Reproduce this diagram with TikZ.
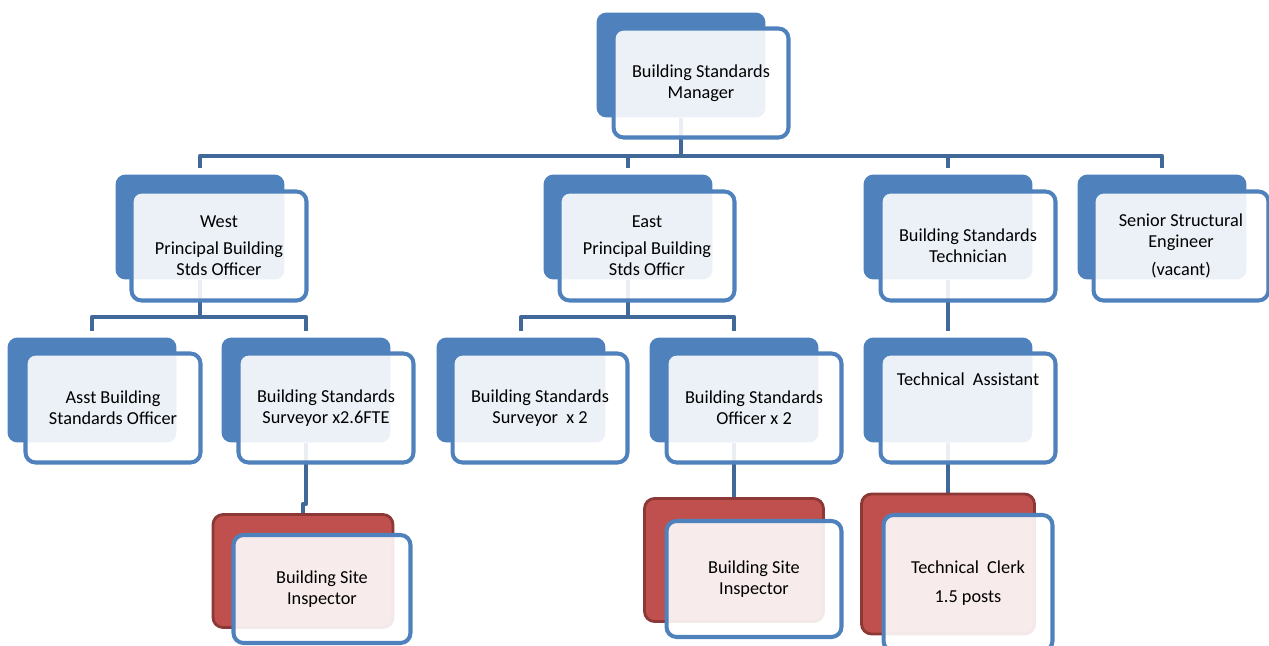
\documentclass[tikz,border=0pt]{standalone}
\usepackage{fontspec}
\setmainfont{Carlito}
\usetikzlibrary{backgrounds}
\definecolor{orgblue}{HTML}{4F81BD}
\definecolor{orgline}{HTML}{406898}
\definecolor{orgred}{HTML}{C0504D}
\definecolor{orgredline}{HTML}{8C3836}

\begin{document}
\begin{tikzpicture}[x=0.02cm, y=-0.02cm,
	font=\fontsize{10.4}{12}\selectfont,
	bluebk/.style={rectangle, rounded corners=0.2cm, fill=orgblue, minimum width=3.38cm, minimum height=2.1cm},
	redbk/.style={rectangle, rounded corners=0.2cm, fill=orgred, draw=orgredline, line width=1.6pt},
	frontbox/.style={rectangle, rounded corners=0.2cm, draw=orgblue, line width=2.3pt, fill=white, fill opacity=0.89, text opacity=1, align=center, minimum width=3.5cm, minimum height=2.18cm},
	conn/.style={draw=orgline, line width=2.4pt, line join=round},
	gap/.style={shorten >=0.13cm}]
		\useasboundingbox (0,0) rectangle (1269,646);
		\node[bluebk] (mgrb) at (681,65) {};
		\node[frontbox] (mgr) at (701,83) {Building Standards\\Manager};
		\node[bluebk] (westb) at (200,227) {};
		\node[frontbox] (west) at (219,246) {West\\[3.4pt]Principal Building\\Stds Officer};
		\node[bluebk] (eastb) at (628,227) {};
		\node[frontbox] (east) at (647,246) {East\\[3.4pt]Principal Building\\Stds Officr};
		\node[bluebk] (techb) at (948,227) {};
		\node[frontbox] (tech) at (968,246) {Building Standards\\Technician};
		\node[bluebk] (seniorb) at (1162,227) {};
		\node[frontbox] (senior) at (1181,246) {Senior Structural\\Engineer\\[4pt](vacant)};
		\node[bluebk] (asstb) at (92,390) {};
		\node[frontbox] (asst) at (113,408) {Asst Building\\Standards Officer};
		\node[bluebk] (survb) at (306,390) {};
		\node[frontbox] (surv) at (326,408) {Building Standards\\Surveyor x2.6FTE};
		\node[bluebk] (surv2b) at (521,390) {};
		\node[frontbox] (surv2) at (540,408) {Building Standards\\Surveyor\ \ x 2};
		\node[bluebk] (offcb) at (734,390) {};
		\node[frontbox] (offc) at (754,408) {Building Standards\\Officer x 2};
		\node[bluebk] (tasstb) at (948,390) {};
		\node[frontbox] (tasst) at (968,408) {};
		\node (tasstlbl) at (968,379) {Technical\ \ Assistant};
		\node[redbk, minimum width=3.6cm, minimum height=2.26cm] (winspb) at (303,571) {};
		\node[frontbox, minimum width=3.54cm, minimum height=2.16cm] (winsp) at (322,589) {Building Site\\Inspector};
		\node[redbk, minimum width=3.58cm, minimum height=2.46cm] (einspb) at (734,560) {};
		\node[frontbox, minimum height=2.32cm] (einsp) at (754,579) {Building Site\\Inspector};
		\node[redbk, minimum width=3.46cm, minimum height=2.8cm] (clerkb) at (948,564) {};
		\node[frontbox, minimum width=3.38cm, minimum height=2.72cm] (clerk) at (968,583) {Technical\ \ Clerk\\[4.5pt]1.5 posts};
		\begin{scope}[on background layer]
			\coordinate (busa) at (0,156);
			\coordinate (busb) at (0,317);
			\draw[conn] (mgrb.south) -- (mgrb.south |- busa);
			\draw[conn, gap, shorten <=0.13cm] (westb.north) |- (seniorb.north |- busa) -- (seniorb.north);
			\draw[conn, gap] (eastb.north |- busa) -- (eastb.north);
			\draw[conn, gap] (techb.north |- busa) -- (techb.north);
			\draw[conn] (westb.south) -- (westb.south |- busb);
			\draw[conn, gap, shorten <=0.13cm] (asstb.north) |- (survb.north |- busb) -- (survb.north);
			\draw[conn] (eastb.south) -- (eastb.south |- busb);
			\draw[conn, gap, shorten <=0.13cm] (surv2b.north) |- (offcb.north |- busb) -- (offcb.north);
			\draw[conn, gap] (techb.south) -- (tasstb.north);
			\draw[conn] (survb.south) -- ++(0,61) -| (winspb.north);
			\draw[conn] (offcb.south) -- (einspb.north);
			\draw[conn] (tasstb.south) -- (clerkb.north);
		\end{scope}
	\end{tikzpicture}
\end{document}
